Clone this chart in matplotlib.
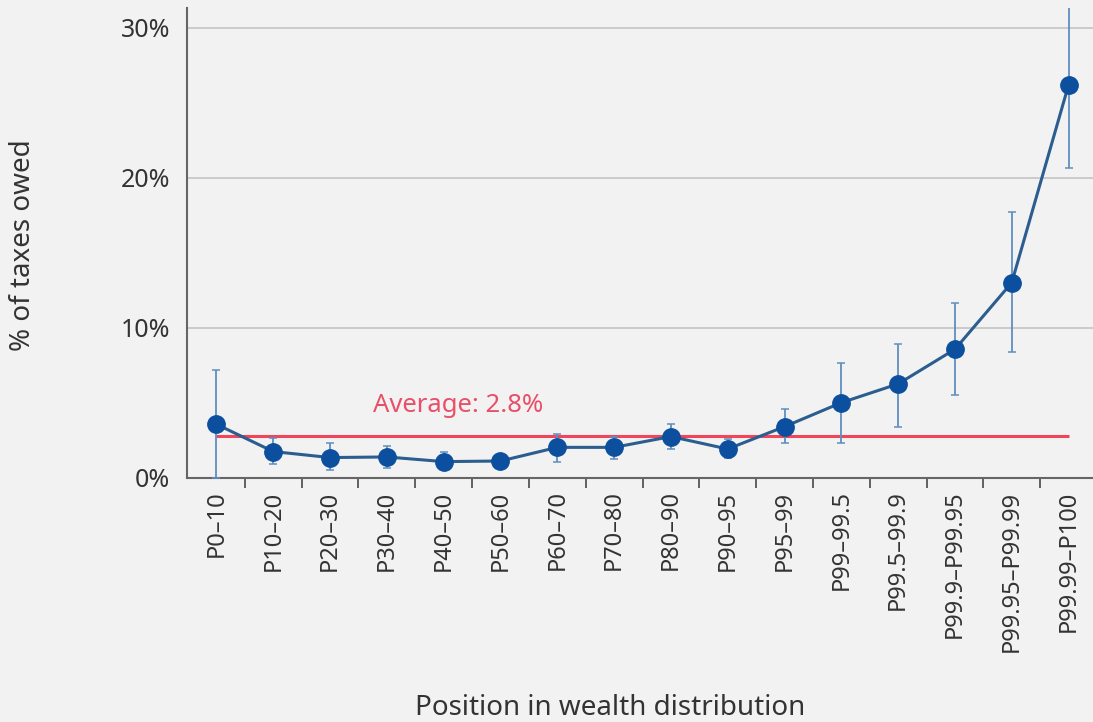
import numpy as np
import matplotlib.pyplot as plt

plt.rcParams['font.family'] = ['Noto Sans', 'DejaVu Sans']

# Position in wealth distribution
groups = ['P0–10', 'P10–20', 'P20–30', 'P30–40', 'P40–50', 'P50–60', 'P60–70',
          'P70–80', 'P80–90', 'P90–95', 'P95–99', 'P99–99.5', 'P99.5–99.9',
          'P99.9–P99.95', 'P99.95–P99.99', 'P99.99–P100']
# % of taxes owed (point estimate and confidence bounds)
share = [3.58, 1.76, 1.36, 1.40, 1.09, 1.13, 2.04, 2.04, 2.76, 1.93, 3.42,
         5.02, 6.27, 8.58, 13.02, 26.2]
low = [0.0, 0.91, 0.53, 0.64, 0.60, 0.90, 1.05, 1.24, 1.93, 1.31, 2.36,
       2.36, 3.42, 5.53, 8.40, 20.69]
high = [7.2, 2.65, 2.36, 2.16, 1.73, 1.35, 2.93, 2.70, 3.58, 2.58, 4.60,
        7.64, 8.93, 11.69, 17.73, 31.6]
average = 2.8

bg = '#f2f2f2'
x = np.arange(len(groups))
share = np.array(share)
yerr = [share - np.array(low), np.array(high) - share]

fig = plt.figure(figsize=(10.93, 7.22), dpi=100, facecolor=bg)
ax = fig.add_axes([0.171, 0.338, 0.829, 0.651], facecolor=bg)

ax.grid(axis='y', color='#c4c4c4', linewidth=1.2, zorder=0)
ax.hlines(average, 0, len(groups) - 1, color='#f0455a', linewidth=2.2, zorder=2)
ax.text(2.75, 4.8, 'Average: 2.8%', color='#e8506a', fontsize=18.5, va='center', ha='left')

ax.errorbar(x, share, yerr=yerr, fmt='none', ecolor='#5f8fbf', elinewidth=1.3,
            capsize=3, capthick=1.1, zorder=3)
ax.plot(x, share, color='#2c5d8f', linewidth=2.2, marker='o', markersize=12.5,
        markerfacecolor='#0b4f9e', markeredgecolor='#0b4f9e', zorder=4)

ax.set_xlim(-0.52, 15.43)
ax.set_ylim(0, 31.33)
ax.set_yticks([0, 10, 20, 30])
ax.set_yticklabels(['0%', '10%', '20%', '30%'])
ax.set_xticks(x)
ax.set_xticklabels(groups, rotation=90, fontsize=17, color='#333333')
ax.set_xticks(x[:-1] + 0.5, minor=True)
ax.tick_params(axis='x', which='major', length=0, pad=9)
ax.tick_params(axis='x', which='minor', length=7, width=1.3, color='#555555')
ax.tick_params(axis='y', length=0, labelsize=18, labelcolor='#333333', pad=12)

for side in ['top', 'right']:
    ax.spines[side].set_visible(False)
for side in ['left', 'bottom']:
    ax.spines[side].set_color('#666666')
    ax.spines[side].set_linewidth(1.5)

fig.text(0.021, 0.660, '% of taxes owed', rotation=90, fontsize=20, color='#333333',
         ha='center', va='center')
fig.text(0.558, 0.019, 'Position in wealth distribution', fontsize=20, color='#333333',
         ha='center', va='center')

fig.savefig('out.png', dpi=100, facecolor=bg)
